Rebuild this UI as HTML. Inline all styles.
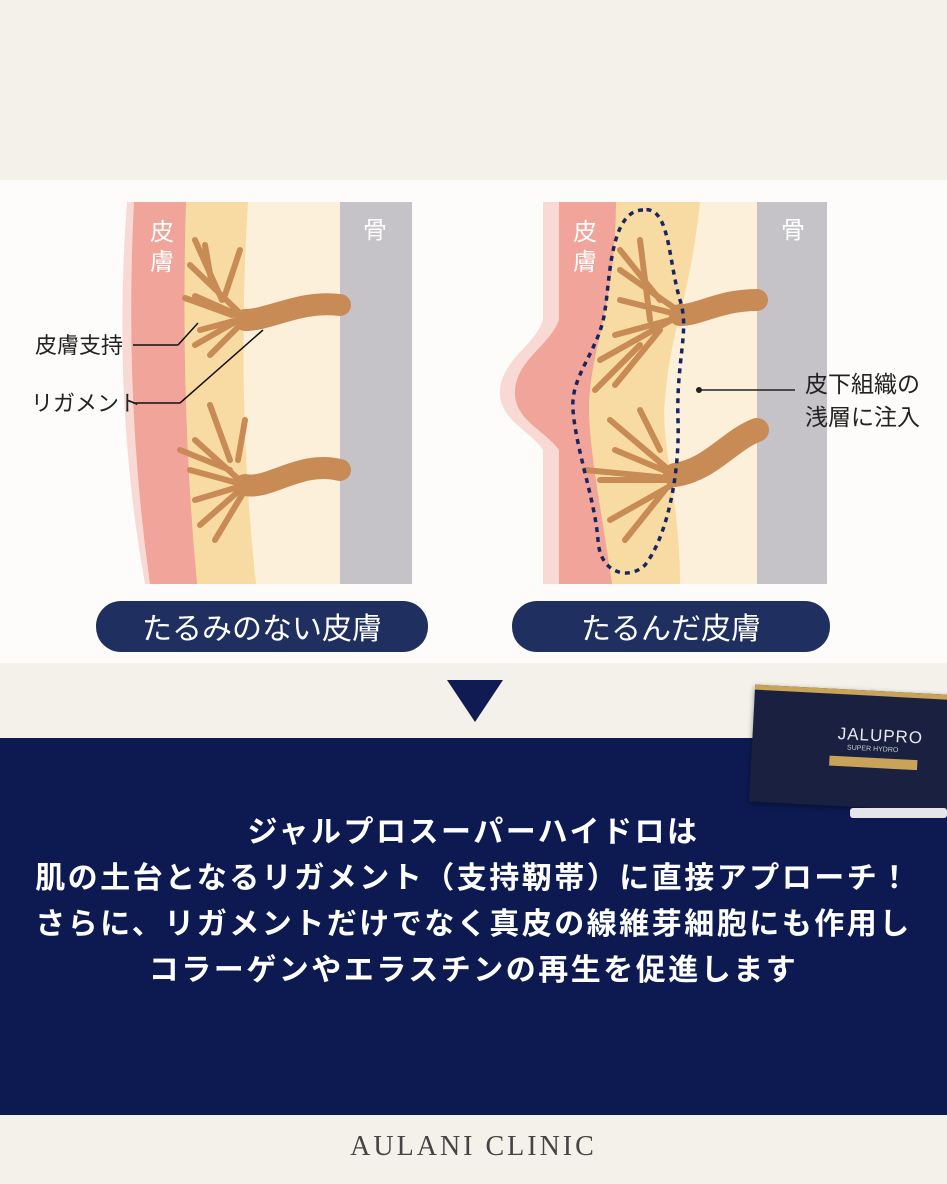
<!DOCTYPE html>
<html><head><meta charset="utf-8"><style>
html,body{margin:0;padding:0}
body{width:947px;height:1184px;position:relative;background:#f4f1ea;overflow:hidden;font-family:"Liberation Sans","Noto Sans CJK JP",sans-serif}
.abs{position:absolute}
.txt{position:absolute;left:0;width:947px;text-align:center;color:#fff;font-weight:bold;font-size:30px;letter-spacing:2.5px;line-height:46px;top:810px}
</style></head><body>
<div class="abs" style="left:0;top:180px;width:947px;height:483px;background:#fdfcfa"></div>
<svg class="abs" style="left:0;top:0" width="947" height="740" viewBox="0 0 947 740">
 <!-- LEFT diagram -->
 <path d="M127,202 L412,202 L412,584 L145,584 Q112,400 127,202Z" fill="#f9d9d3"/>
 <path d="M134,202 L412,202 L412,584 L150,584 Q124,400 134,202Z" fill="#f0a49a"/>
 <path d="M186,202 L412,202 L412,584 L197,584 Q180,400 186,202Z" fill="#f8dba3"/>
 <path d="M248,202 L412,202 L412,584 L256,584 Q236,400 248,202Z" fill="#fdf0da"/>
 <rect x="340" y="202" width="72" height="382" fill="#c5c3c8"/>
 <g stroke="#c98b55" fill="none" stroke-linecap="round">
  <path d="M340,305 C300,300 270,320 245,320" stroke-width="22"/>
  <path d="M245,318 L190,265 M245,318 L195,296 M232,315 L185,298 M245,318 L200,330 M235,322 L195,345 M240,325 L210,355 M222,300 L195,240 M212,285 L205,245 M225,295 L240,250" stroke-width="6"/>
  <path d="M340,470 C300,460 270,490 245,485" stroke-width="22"/>
  <path d="M245,485 L195,440 M245,485 L190,470 M245,485 L195,500 M240,490 L200,525 M245,490 L215,540 M230,460 L210,405 M238,460 L245,420 M230,470 L180,450" stroke-width="6"/>
 </g>
 <line x1="133" y1="345" x2="178" y2="345" stroke="#111" stroke-width="1.5"/>
 <line x1="178" y1="345" x2="198" y2="323" stroke="#111" stroke-width="1.5"/>
 <line x1="133" y1="403" x2="180" y2="403" stroke="#111" stroke-width="1.5"/>
 <line x1="180" y1="403" x2="263" y2="330" stroke="#111" stroke-width="1.5"/>
 <text x="162" y="240" font-size="24" fill="#fff" text-anchor="middle" font-family="Noto Sans CJK JP">皮</text>
 <text x="162" y="270" font-size="24" fill="#fff" text-anchor="middle" font-family="Noto Sans CJK JP">膚</text>
 <text x="375" y="238" font-size="24" fill="#fff" text-anchor="middle" font-family="Noto Sans CJK JP">骨</text>
 <text x="35" y="353" font-size="22" fill="#222" font-family="Noto Sans CJK JP">皮膚支持</text>
 <text x="31" y="411" font-size="22" fill="#222" font-family="Noto Sans CJK JP">リガメント</text>
 <rect x="96" y="601" width="332" height="51" rx="25" fill="#1f3060"/>
 <text x="262" y="639" font-size="30" fill="#fff" text-anchor="middle" font-family="Noto Sans CJK JP">たるみのない皮膚</text>
 <!-- RIGHT diagram -->
 <path d="M543,202 L827,202 L827,584 L543,584 L543,450 C530,430 498,420 500,390 C502,360 535,345 543,320Z" fill="#f9d9d3"/>
 <path d="M559,202 L827,202 L827,584 L559,584 L559,450 C545,430 513,420 515,390 C517,360 550,345 559,320Z" fill="#f0a49a"/>
 <path d="M616,202 L827,202 L827,584 L612,584 C600,500 585,430 590,390 C595,340 615,300 616,202Z" fill="#f8dba3"/>
 <path d="M700,202 L827,202 L827,584 L680,584 C680,500 660,440 665,400 C670,330 690,300 700,202Z" fill="#fdf0da"/>
 <rect x="757" y="202" width="70" height="382" fill="#c5c3c8"/>
 <g stroke="#c98b55" fill="none" stroke-linecap="round">
  <path d="M757,300 C720,300 700,315 680,315" stroke-width="22"/>
  <path d="M757,430 C730,440 710,470 675,475" stroke-width="24"/>
  <path d="M680,312 L620,270 M680,315 L620,300 M670,320 L615,335 M675,318 L600,360 M660,330 L615,385 M650,320 L640,240 M660,300 L620,250 M640,345 L595,390" stroke-width="6"/>
  <path d="M675,475 L610,420 M675,475 L615,450 M670,480 L600,480 M672,485 L610,520 M665,490 L625,540 M660,450 L640,410 M668,478 L585,470" stroke-width="6"/>
 </g>
 <path d="M643,210 C610,210 610,280 605,310 C600,350 570,375 573,410 C576,450 595,500 598,540 C600,575 630,580 645,565 C665,540 680,480 678,420 C676,360 690,330 680,300 C668,260 670,205 643,210Z" fill="none" stroke="#1a2560" stroke-width="3.5" stroke-dasharray="5,5"/>
 <circle cx="699" cy="390" r="3" fill="#222"/>
 <line x1="699" y1="390" x2="795" y2="390" stroke="#222" stroke-width="1.5"/>
 <text x="585" y="240" font-size="24" fill="#fff" text-anchor="middle" font-family="Noto Sans CJK JP">皮</text>
 <text x="585" y="270" font-size="24" fill="#fff" text-anchor="middle" font-family="Noto Sans CJK JP">膚</text>
 <text x="793" y="238" font-size="24" fill="#fff" text-anchor="middle" font-family="Noto Sans CJK JP">骨</text>
 <text x="805" y="392" font-size="23" fill="#222" font-family="Noto Sans CJK JP">皮下組織の</text>
 <text x="805" y="425" font-size="23" fill="#222" font-family="Noto Sans CJK JP">浅層に注入</text>
 <rect x="512" y="601" width="318" height="51" rx="25" fill="#1f3060"/>
 <text x="671" y="639" font-size="30" fill="#fff" text-anchor="middle" font-family="Noto Sans CJK JP">たるんだ皮膚</text>
 <!-- triangle -->
 <path d="M447,680 L503,680 L475,722Z" fill="#0f1b52"/>
</svg>
<div class="abs" style="left:0;top:738px;width:947px;height:377px;background:#0d1a52"></div>
<!-- product box -->
<div class="abs" style="left:752px;top:690px;width:210px;height:112px;background:#1a2040;transform:rotate(3deg);border-top:5px solid #c9a458;box-shadow:0 2px 6px rgba(0,0,0,.4)">
 <div style="position:absolute;left:85px;top:30px;color:#e8e8f0;font-size:17px;letter-spacing:1px;font-family:'Liberation Sans'">JALUPRO</div>
 <div style="position:absolute;left:95px;top:50px;color:#ccc;font-size:7px;font-family:'Liberation Sans'">SUPER HYDRO</div>
 <div style="position:absolute;left:78px;top:62px;width:88px;height:10px;background:#c9a458"></div>
</div>
<div class="abs" style="left:850px;top:808px;width:97px;height:10px;background:#e6e6ea;border-radius:3px"></div>
<div class="txt">ジャルプロスーパーハイドロは<br>肌の土台となるリガメント（支持靭帯）に直接アプローチ！<br>さらに、リガメントだけでなく真皮の線維芽細胞にも作用し<br>コラーゲンやエラスチンの再生を促進します</div>
<div class="abs" style="left:0;top:1131px;width:947px;text-align:center;font-family:'Liberation Serif',serif;font-size:28px;letter-spacing:3px;color:#444">AULANI CLINIC</div>
</body></html>
